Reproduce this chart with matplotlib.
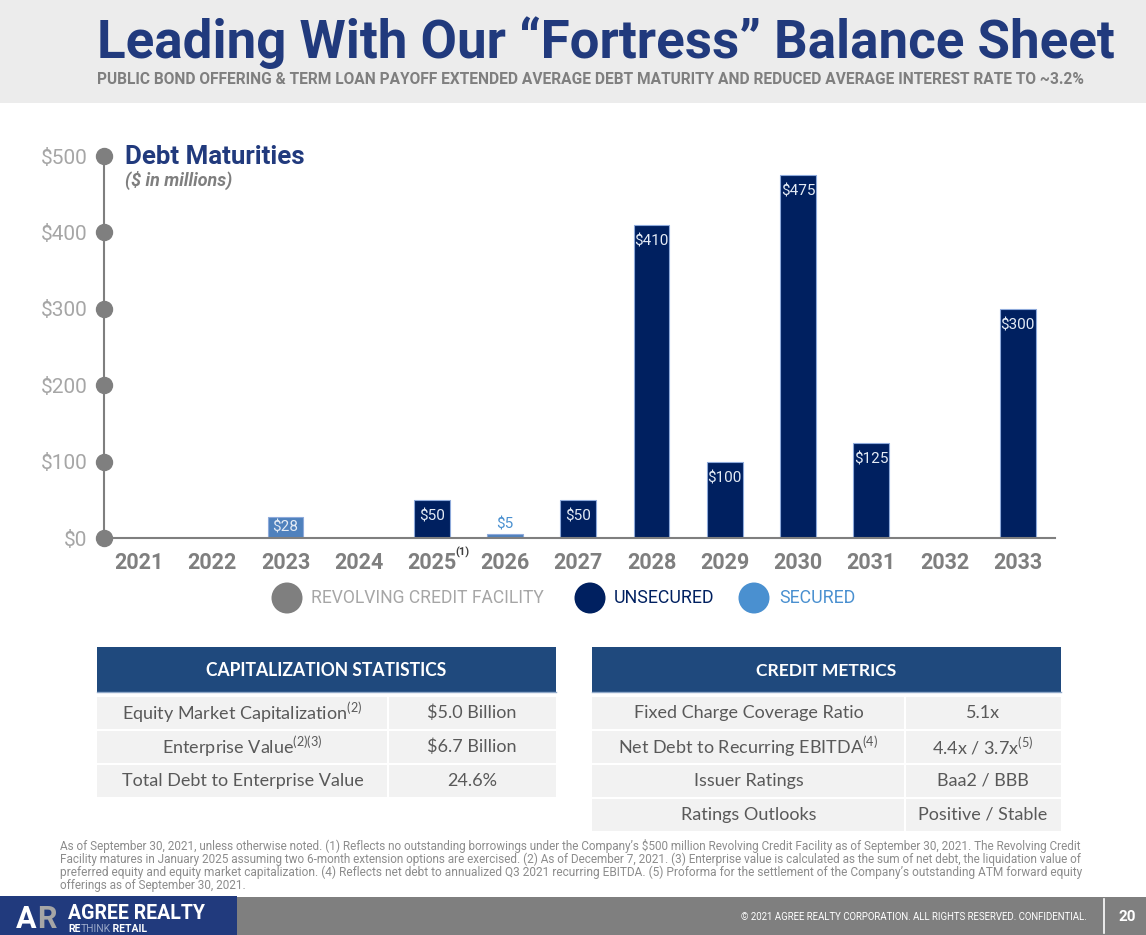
import matplotlib
matplotlib.use("Agg")
import matplotlib.pyplot as plt
from matplotlib import font_manager
from matplotlib.patches import Rectangle, Circle
import numpy as np

# ---------------- data ----------------
years = ["2021", "2022", "2023", "2024", "2025", "2026", "2027",
         "2028", "2029", "2030", "2031", "2032", "2033"]
revolving = [0, 0, 0, 0, 0, 0, 0, 0, 0, 0, 0, 0, 0]
secured = [0, 0, 28, 0, 0, 5, 0, 0, 0, 0, 0, 0, 0]
unsecured = [0, 0, 0, 0, 50, 0, 50, 410, 100, 475, 125, 0, 300]
y_ticks = [0, 100, 200, 300, 400, 500]
y_tick_labels = [r"\$0", r"\$100", r"\$200", r"\$300", r"\$400", r"\$500"]
series_names = ["REVOLVING CREDIT FACILITY", "UNSECURED", "SECURED"]

title = "Leading With Our \u201cFortress\u201d Balance Sheet"
subtitle = ("PUBLIC BOND OFFERING & TERM LOAN PAYOFF EXTENDED AVERAGE DEBT "
            "MATURITY AND REDUCED AVERAGE INTEREST RATE TO ~3.2%")

cap_title = "CAPITALIZATION STATISTICS"
cap_labels = ["Equity Market Capitalization", "Enterprise Value",
              "Total Debt to Enterprise Value"]
cap_label_notes = ["(2)", "(2)(3)", ""]
cap_values = [r"\$5.0 Billion", r"\$6.7 Billion", "24.6%"]
cap_value_notes = ["", "", ""]

credit_title = "CREDIT METRICS"
credit_labels = ["Fixed Charge Coverage Ratio", "Net Debt to Recurring EBITDA",
                 "Issuer Ratings", "Ratings Outlooks"]
credit_label_notes = ["", "(4)", "", ""]
credit_values = ["5.1x", "4.4x / 3.7x", "Baa2 / BBB", "Positive / Stable"]
credit_value_notes = ["", "(5)", "", ""]

footnotes = [
    "As of September 30, 2021, unless otherwise noted. (1) Reflects no outstanding borrowings under the "
    "Company\u2019s \\$500 million Revolving Credit Facility as of September 30, 2021. The Revolving Credit",
    "Facility matures in January 2025 assuming two 6-month extension options are exercised. (2) As of "
    "December 7, 2021. (3) Enterprise value is calculated as the sum of net debt, the liquidation value of",
    "preferred equity and equity market capitalization. (4) Reflects net debt to annualized Q3 2021 "
    "recurring EBITDA. (5) Proforma for the settlement of the Company\u2019s outstanding ATM forward equity",
    "offerings as of September 30, 2021.",
]

# ---------------- styles ----------------
NAVY = "#002060"
TITLE_BLUE = "#213a7d"
HDR_BLUE = "#1f497d"
SEC_BLUE = "#4f81bd"
SEC_LEG = "#4a90d0"
GRAY = "#7f7f7f"
LGRAY = "#a6a6a6"
TXT = "#595959"
series_colors = [GRAY, NAVY, SEC_LEG]
series_text_colors = [LGRAY, NAVY, SEC_LEG]

avail = {f.name for f in font_manager.fontManager.ttflist}


def pick(*names):
    for n in names:
        if n in avail:
            return n
    return "DejaVu Sans"


NARROW = pick("Liberation Sans Narrow", "DejaVu Sans Condensed", "Roboto", "Liberation Sans")
BODY = pick("Lato", "Open Sans", "DejaVu Sans")

W, H = 1146, 935
fig = plt.figure(figsize=(W / 100, H / 100), dpi=100)
fig.patch.set_facecolor("white")
renderer = fig.canvas.get_renderer()

ov = fig.add_axes([0, 0, 1, 1], zorder=0)
ov.set_xlim(0, W)
ov.set_ylim(H, 0)
ov.axis("off")


def fit(t, width):
    w = t.get_window_extent(renderer).width
    t.set_fontsize(t.get_fontsize() * width / w)
    return t


def sup(s, note):
    if not note:
        return s
    return s + r"$^{\mathregular{" + note + "}}$"


# ---------------- header ----------------
ov.add_patch(Rectangle((0, 0), W, 103, color="#ececec", lw=0))
t = ov.text(97, 58, title, fontsize=40, fontweight="bold", color=TITLE_BLUE,
            family=NARROW, va="baseline", ha="left")
fit(t, 1016)
t = ov.text(97, 84, subtitle, fontsize=11, fontweight="bold", color=GRAY,
            family=NARROW, va="baseline", ha="left")
fit(t, 988)

# ---------------- chart ----------------
px_left, px_right, px_top, px_bottom = 104, 1055, 156, 538
ax = fig.add_axes([px_left / W, 1 - px_bottom / H, (px_right - px_left) / W,
                   (px_bottom - px_top) / H], zorder=2)
ax.patch.set_alpha(0)
x = np.arange(len(years))
xmin, xmax = -0.478, 12.51
ax.set_xlim(xmin, xmax)
ax.set_ylim(0, 500)
bw = 0.49
px_per_unit = (px_bottom - px_top) / 500.0

rev = np.array(revolving, float)
sec = np.array(secured, float)
uns = np.array(unsecured, float)
ax.bar(x, rev, width=bw, color=GRAY, lw=0)
ax.bar(x, sec, bottom=rev, width=bw, color=SEC_BLUE,
       edgecolor=["#8eaadb" if v > 0 else "none" for v in sec], lw=0.8)
ax.bar(x, uns, bottom=rev + sec, width=bw, color=NAVY,
       edgecolor=["#8eaadb" if v > 0 else "none" for v in uns], lw=0.8)

for i in range(len(years)):
    for vals, base in ((sec, rev), (uns, rev + sec)):
        v = vals[i]
        if v <= 0:
            continue
        top = base[i] + v
        lab = r"\$%d" % v
        if v < 15:
            ax.annotate(lab, (x[i], top), xytext=(0, 2), textcoords="offset points",
                        ha="center", va="bottom", color=SEC_LEG, fontsize=11,
                        family=NARROW)
        else:
            drop_px = min(16.5, v * px_per_unit / 2)
            ax.annotate(lab, (x[i], top), xytext=(0, -drop_px * 0.72),
                        textcoords="offset points", ha="center", va="center",
                        color="#e4ebf5", fontsize=11, family=NARROW)

for s in ("top", "right"):
    ax.spines[s].set_visible(False)
for s in ("left", "bottom"):
    ax.spines[s].set_color(GRAY)
    ax.spines[s].set_linewidth(1.5)
ax.spines["left"].set_zorder(1)

ax.set_yticks(y_ticks)
ax.set_yticklabels(y_tick_labels, color=LGRAY, fontsize=15, family=NARROW)
ax.tick_params(axis="y", length=0, pad=12)
ax.plot(np.full(len(y_ticks), xmin), y_ticks, "o", color=GRAY, ms=11.5,
        clip_on=False, zorder=6)

ax.set_xticks(x)
ax.set_xticklabels(years, color=GRAY, fontsize=15.5, fontweight="bold", family=NARROW)
ax.tick_params(axis="x", length=0, pad=10)
ax.annotate("(1)", (4, 0), xytext=(17, -10), textcoords="offset points",
            ha="left", va="center", fontsize=8, fontweight="bold", color="#404040",
            family=NARROW, annotation_clip=False)

t = ov.text(125, 164, "Debt Maturities", fontsize=18, fontweight="bold",
            color=TITLE_BLUE, family=NARROW, va="baseline", ha="left")
fit(t, 180)
t = ov.text(125, 186, r"(\$ in millions)", fontsize=12, fontweight="bold",
            style="italic", color=GRAY, family=NARROW, va="baseline", ha="left")
fit(t, 107)

# legend
leg_circle_x = [287, 590, 754]
leg_text_x = [311, 614, 779]
leg_widths = [233, 100, 76]
for name, c, tc, cx, tx, tw in zip(series_names, series_colors, series_text_colors,
                                    leg_circle_x, leg_text_x, leg_widths):
    ov.add_patch(Circle((cx, 598), 15.5, color=c, lw=0))
    t = ov.text(tx, 598, name, fontsize=13, color=tc, family=NARROW,
                va="center", ha="left")
    fit(t, tw)

# ---------------- tables ----------------


def draw_table(x0, x1, xsplit, title_txt, title_w, labels, lnotes, values, vnotes):
    ov.add_patch(Rectangle((x0, 647), x1 - x0, 45, color=HDR_BLUE, lw=0))
    ov.plot([x0, x1], [691.5, 691.5], color="#8fa8c8", lw=1)
    t = ov.text((x0 + x1) / 2, 671, title_txt, fontsize=13, fontweight="bold",
                color="white", family=BODY, ha="center", va="center")
    fit(t, title_w)
    for r, (lab, ln, val, vn) in enumerate(zip(labels, lnotes, values, vnotes)):
        y0 = 697 + r * 34
        ov.add_patch(Rectangle((x0, y0), xsplit - x0 - 1, 32, color="#f2f2f2", lw=0))
        ov.add_patch(Rectangle((xsplit + 1, y0), x1 - xsplit - 1, 32, color="#f2f2f2", lw=0))
        ov.text((x0 + xsplit) / 2, y0 + 16, sup(lab, ln), fontsize=13, color=TXT,
                family=BODY, ha="center", va="center")
        ov.text((xsplit + x1) / 2, y0 + 16, sup(val, vn), fontsize=13, color=TXT,
                family=BODY, ha="center", va="center")


draw_table(97, 556, 388, cap_title, 242, cap_labels, cap_label_notes,
           cap_values, cap_value_notes)
draw_table(592, 1061, 905, credit_title, 141, credit_labels, credit_label_notes,
           credit_values, credit_value_notes)

# ---------------- footnotes ----------------
fn_widths = [1033, 1037, 1025]
fn_y = [850, 863, 876, 889]
fs0 = None
for i, (line, y) in enumerate(zip(footnotes, fn_y)):
    t = ov.text(60, y, line, fontsize=8, color="#8c8c8c", family=NARROW,
                va="baseline", ha="left")
    if i < len(fn_widths):
        fit(t, fn_widths[i])
        if fs0 is None:
            fs0 = t.get_fontsize()
    else:
        t.set_fontsize(fs0)

# ---------------- footer ----------------
ov.add_patch(Rectangle((0, 897), W, H - 897, color=GRAY, lw=0))
ov.add_patch(Rectangle((0, 896), 237, H - 896, color=TITLE_BLUE, lw=0))
t = ov.text(16, 928, "A", fontsize=22, fontweight="bold",
            color="white", family=NARROW, va="baseline", ha="left")
xa = 16 + t.get_window_extent(renderer).width + 1
ov.text(xa, 928, "R", fontsize=22, fontweight="bold",
        color="#a6a6a6", family=NARROW, va="baseline", ha="left")
t = ov.text(68, 919, "AGREE REALTY", fontsize=16, fontweight="bold",
            color="white", family=NARROW, va="baseline", ha="left")
fit(t, 137)
xx = 68
for part, col, wt in (("RE", "white", "bold"), ("THINK", "#9aa8c8", "normal"),
                      (" RETAIL", "white", "bold")):
    t = ov.text(xx, 932, part, fontsize=7.5, fontweight=wt, color=col,
                family=NARROW, va="baseline", ha="left")
    xx += t.get_window_extent(renderer).width
t = ov.text(1087, 917, "\u00a9 2021 AGREE REALTY CORPORATION. ALL RIGHTS RESERVED. CONFIDENTIAL.",
            fontsize=7, color="white", family=NARROW, va="center", ha="right")
fit(t, 347)
ov.plot([1104, 1104], [899, 933], color="white", lw=1.2)
ov.text(1127, 917, "20", fontsize=11, fontweight="bold", color="white",
        family=NARROW, va="center", ha="center")

fig.savefig("out.png", dpi=100, facecolor="white")
